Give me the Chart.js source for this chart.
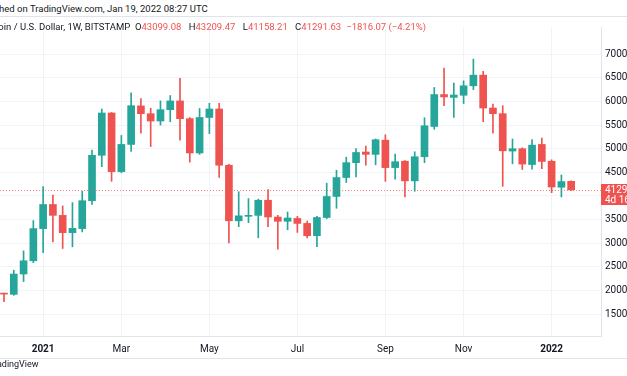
<!DOCTYPE html>
<html>
<head>
<meta charset="utf-8">
<script src="https://cdn.jsdelivr.net/npm/chart.js@4"></script>
<style>
  html, body { margin: 0; padding: 0; background: #fff; }
  body { width: 627px; height: 376px; position: relative; overflow: hidden; font-family: Roboto, "Liberation Sans", sans-serif; color: #131722; }
  #wrap { position: absolute; left: 0; top: 17px; width: 627px; height: 342px; }
  .hdr { position: absolute; white-space: nowrap; font-size: 9.5px; }
  #pub { left: -27px; top: 3px; }
  #legend { left: -18px; top: 21px; }
  #legend .v { color: #ef5350; margin-right: 5px; }
  #sep { position: absolute; left: 0; top: 16px; width: 627px; height: 1px; background: #e0e3eb; }
  #bottomLine { position: absolute; left: 0; top: 358px; width: 627px; height: 1px; background: #e0e3eb; }
  #foot { position: absolute; left: -11px; top: 359px; font-size: 9px; white-space: nowrap; }
</style>
</head>
<body>
<div class="hdr" id="pub">Published on TradingView.com, Jan 19, 2022 08:27 UTC</div>
<div id="sep"></div>
<div id="wrap"><canvas id="btcChart" width="627" height="342"></canvas></div>
<div class="hdr" id="legend">Bitcoin / U.S. Dollar, 1W, BITSTAMP&nbsp; O<span class="v">43099.08</span> H<span class="v">43209.47</span> L<span class="v">41158.21</span> C<span class="v">41291.63</span><span class="v">−1816.07 (−4.21%)</span></div>
<div id="bottomLine"></div>
<div id="foot">TradingView</div>
<script>
// weekly candles, BTC/USD Bitstamp, week of Dec 7 2020 .. Jan 17 2022
const weeks = [
  "2020-12-07","2020-12-14","2020-12-21","2020-12-28","2021-01-04","2021-01-11","2021-01-18","2021-01-25",
  "2021-02-01","2021-02-08","2021-02-15","2021-02-22","2021-03-01","2021-03-08","2021-03-15","2021-03-22",
  "2021-03-29","2021-04-05","2021-04-12","2021-04-19","2021-04-26","2021-05-03","2021-05-10","2021-05-17",
  "2021-05-24","2021-05-31","2021-06-07","2021-06-14","2021-06-21","2021-06-28","2021-07-05","2021-07-12",
  "2021-07-19","2021-07-26","2021-08-02","2021-08-09","2021-08-16","2021-08-23","2021-08-30","2021-09-06",
  "2021-09-13","2021-09-20","2021-09-27","2021-10-04","2021-10-11","2021-10-18","2021-10-25","2021-11-01",
  "2021-11-08","2021-11-15","2021-11-22","2021-11-29","2021-12-06","2021-12-13","2021-12-20","2021-12-27",
  "2022-01-03","2022-01-10","2022-01-17"
];
const open = [
  19400, 19200, 23500, 26300, 33100, 38200, 35900, 32250,
  33100, 39000, 48600, 57550, 45150, 50900, 59050, 57400,
  55850, 58250, 60100, 56350, 49100, 56600, 58400, 46500,
  34750, 35700, 35900, 39100, 35550, 34650, 35250, 34200,
  31600, 35450, 39900, 43900, 47050, 49300, 48800, 51800,
  46000, 47350, 43200, 48300, 54700, 61450, 60850, 61300,
  63300, 65550, 58600, 57400, 49500, 50000, 46650, 50900,
  47350, 41850, 43099.08
];
const high = [
  19450, 24300, 28400, 34800, 42000, 40200, 37900, 38600,
  41000, 49700, 58400, 57650, 52800, 61800, 60600, 58550,
  60100, 61250, 64900, 56600, 58500, 59600, 59600, 46700,
  40900, 39450, 39350, 41350, 35900, 36600, 35700, 34700,
  35700, 42700, 45450, 48200, 50000, 50550, 52050, 52950,
  48850, 47500, 49350, 56550, 62950, 67050, 63850, 64350,
  68950, 66350, 59450, 59100, 52050, 50200, 51950, 52250,
  47650, 44450, 43209.47
];
const low = [
  17650, 19000, 21900, 25900, 28000, 30300, 28900, 29250,
  32400, 38200, 46200, 43100, 44950, 49400, 53300, 50450,
  55000, 55700, 51800, 47150, 48800, 53200, 43900, 30100,
  33500, 34350, 31150, 33500, 28750, 32850, 32300, 31150,
  29300, 35200, 37400, 42850, 44050, 46500, 46600, 43100,
  43550, 39800, 41000, 47050, 54100, 59100, 56600, 59550,
  62500, 55700, 53300, 42050, 46800, 45600, 45650, 45800,
  40700, 39800, 41158.21
];
const close = [
  19250, 23500, 26300, 33100, 38200, 35900, 32250, 33150,
  39000, 48600, 57550, 45150, 50900, 59100, 57400, 55850,
  58250, 60100, 56350, 49100, 56600, 58400, 46500, 34750,
  35800, 35900, 39100, 35550, 34650, 35350, 34200, 31600,
  35450, 39900, 43900, 47050, 49200, 48800, 51900, 46000,
  47250, 43200, 48300, 54850, 61450, 60950, 61350, 63300,
  65550, 58600, 57400, 49550, 50000, 46750, 50750, 47300,
  41900, 43050, 41291.63
];
const xTickWeeks = [4, 12, 21, 30, 39, 47, 56];
const xTickLabels = ["2021", "Mar", "May", "Jul", "Sep", "Nov", "2022"];
const yTicks = [15000, 20000, 25000, 30000, 35000, 40000, 45000, 50000, 55000, 60000, 65000, 70000];

const UP = "#26a69a", DOWN = "#ef5350";
const GRID = "#f0f3fa", AXIS = "#e0e3eb";
const FONT = "Roboto, 'Liberation Sans', sans-serif";

const colors = open.map((o, i) => close[i] >= o ? UP : DOWN);
const wicks = weeks.map((w, i) => ({ x: i, y: [low[i], high[i]] }));
const bodies = weeks.map((w, i) => ({ x: i, y: [open[i], close[i]] }));

const lastClose = close[close.length - 1];

const lastPricePlugin = {
    id: "lastPrice",
    afterDatasetsDraw(chart) {
        const { ctx, chartArea, scales } = chart;
        const y = Math.round(scales.y.getPixelForValue(lastClose)) + 0.5;
        ctx.save();
        // dotted last-price line
        ctx.strokeStyle = "rgba(239,83,80,0.7)";
        ctx.lineWidth = 1;
        ctx.setLineDash([1, 2]);
        ctx.beginPath();
        ctx.moveTo(chartArea.left, y);
        ctx.lineTo(chartArea.right, y);
        ctx.stroke();
        ctx.setLineDash([]);
        // price label on the axis
        ctx.fillStyle = DOWN;
        ctx.fillRect(chartArea.right, y - 6.5, chart.width - chartArea.right, 21);
        ctx.fillStyle = "#fff";
        ctx.font = "10px " + FONT;
        ctx.textBaseline = "middle";
        ctx.textAlign = "left";
        ctx.fillText(lastClose.toFixed(2), chartArea.right + 4, y);
        ctx.fillText("4d 16h", chartArea.right + 4, y + 9.5);
        ctx.restore();
    }
};

const ctx = document.getElementById("btcChart").getContext("2d");

new Chart(ctx, {
    type: "bar",
    data: {
        datasets: [
            {
                label: "wick",
                data: wicks,
                backgroundColor: colors,
                barThickness: 1,
                grouped: false,
                order: 2
            },
            {
                label: "body",
                data: bodies,
                backgroundColor: colors,
                barThickness: 7,
                minBarLength: 1,
                grouped: false,
                order: 1
            }
        ]
    },
    options: {
        responsive: false,
        animation: false,
        layout: { padding: 0 },
        plugins: {
            legend: { display: false },
            tooltip: { enabled: false }
        },
        scales: {
            x: {
                type: "linear",
                min: -0.41,
                max: 61.05,
                offset: false,
                grid: { color: GRID, offset: false, drawTicks: false },
                border: { color: AXIS },
                afterBuildTicks: s => { s.ticks = xTickWeeks.map(v => ({ value: v })); },
                afterFit: s => { s.height = 23; },
                ticks: {
                    padding: 7,
                    maxRotation: 0,
                    autoSkip: false,
                    color: "#131722",
                    font: c => ({ family: FONT, size: 10, weight: /^\d/.test(xTickLabels[xTickWeeks.indexOf(c.tick && c.tick.value)] || "") ? "bold" : "normal" }),
                    callback: v => xTickLabels[xTickWeeks.indexOf(v)]
                }
            },
            y: {
                position: "right",
                min: 10391,
                max: 75735,
                grid: { color: GRID, drawTicks: false },
                border: { color: AXIS },
                afterBuildTicks: s => { s.ticks = yTicks.map(v => ({ value: v })); },
                afterFit: s => { s.width = 26; },
                ticks: {
                    padding: 4,
                    color: "#131722",
                    font: { family: FONT, size: 10 },
                    callback: v => String(v)
                }
            }
        }
    },
    plugins: [lastPricePlugin]
});
</script>
</body>
</html>
